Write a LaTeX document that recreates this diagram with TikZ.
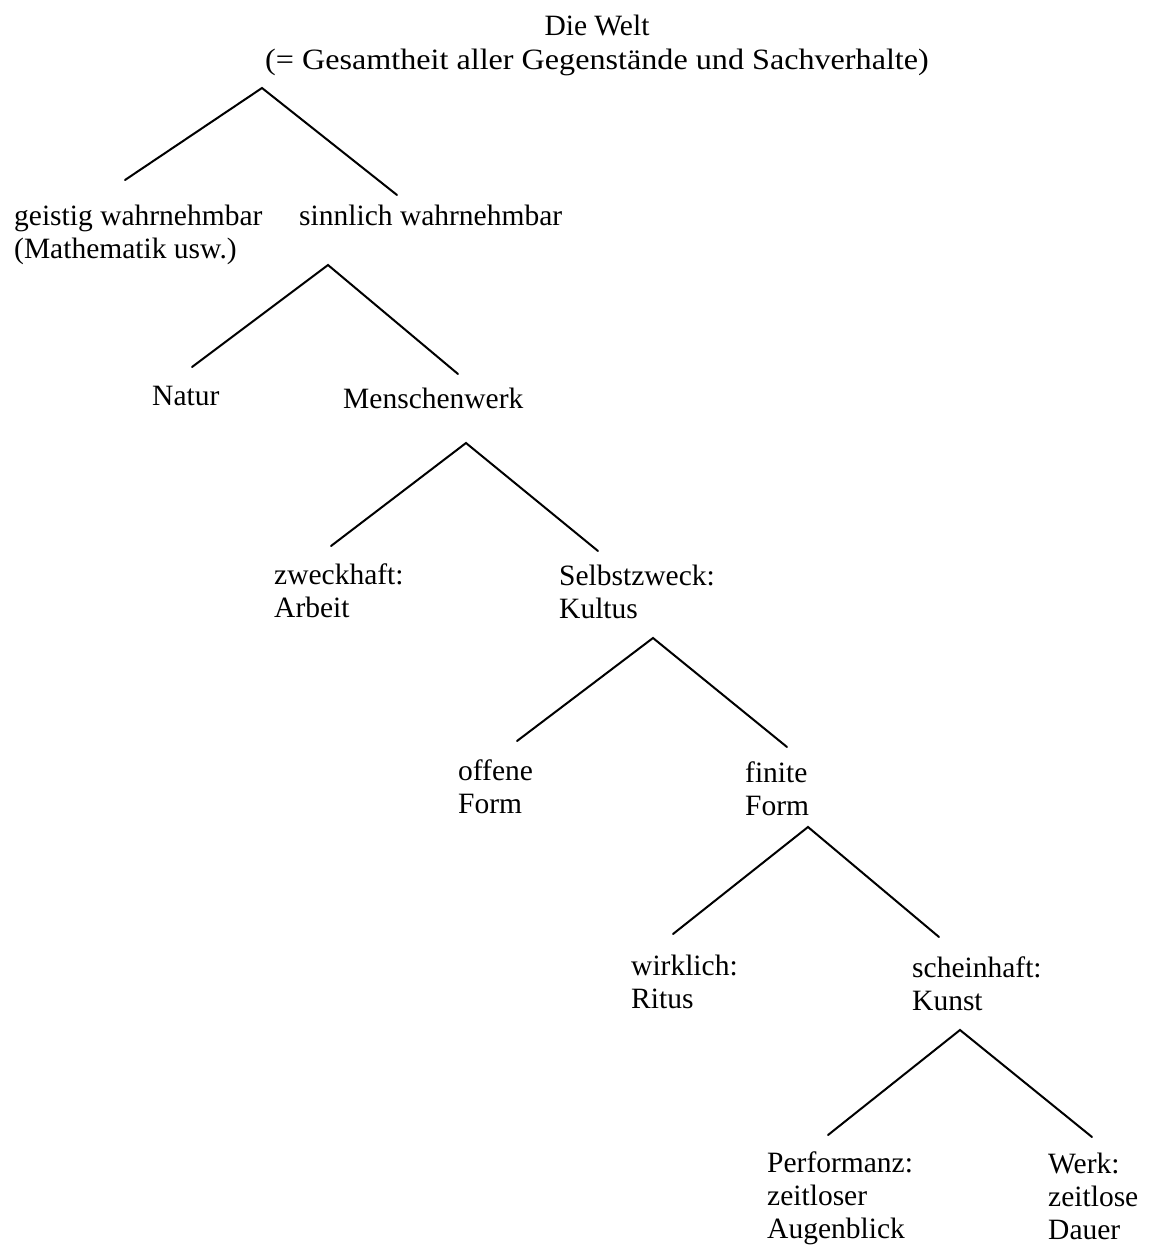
\documentclass[tikz,border=0pt]{standalone}
\usepackage{graphicx}
\usepackage{fontspec}
\setmainfont{Liberation Serif}
\begin{document}
\begin{tikzpicture}[x=1pt,y=-1pt,
  lbl/.style={anchor=base west,inner sep=0pt,align=left,
    font=\fontsize{29.5}{33}\selectfont},
  branch/.style={line width=2pt,line cap=round,line join=miter}]
\useasboundingbox (0,0) rectangle (1152,1258);

% root (base anchor of a multi-line node sits on its last line)
\node[lbl,anchor=base,align=center,font=\fontsize{29.5}{34}\selectfont] (welt) at (597,69)
  {Die Welt\\\scalebox{1.09}[1]{(= Gesamtheit aller Gegenstände und Sachverhalte)}};

% level 1
\coordinate (f1) at (262,88);
\coordinate (f1l) at (125,180);
\coordinate (f1r) at (397,195);
\node[lbl] (geistig) at (14,258) {geistig wahrnehmbar\\(Mathematik usw.)};
\node[lbl] (sinnlich) at (299,225) {sinnlich wahrnehmbar};

% level 2
\coordinate (f2) at (328,265);
\coordinate (f2l) at (192,367);
\coordinate (f2r) at (458,374);
\node[lbl] (natur) at (152,405) {Natur};
\node[lbl] (mensch) at (343,408) {Menschenwerk};

% level 3
\coordinate (f3) at (466,443);
\coordinate (f3l) at (331,546);
\coordinate (f3r) at (598,551);
\node[lbl] (zweck) at (274,617) {zweckhaft:\\Arbeit};
\node[lbl] (selbst) at (559,618) {Selbstzweck:\\Kultus};

% level 4
\coordinate (f4) at (653,638);
\coordinate (f4l) at (517,741);
\coordinate (f4r) at (787,747);
\node[lbl] (offen) at (458,813) {offene\\Form};
\node[lbl] (finit) at (745,815) {finite\\Form};

% level 5
\coordinate (f5) at (808,827);
\coordinate (f5l) at (673,934);
\coordinate (f5r) at (939,937);
\node[lbl] (wirk) at (631,1008) {wirklich:\\Ritus};
\node[lbl] (schein) at (912,1010) {scheinhaft:\\Kunst};

% level 6
\coordinate (f6) at (960,1030);
\coordinate (f6l) at (828,1135);
\coordinate (f6r) at (1092,1137);
\node[lbl] (perf) at (767,1238) {Performanz:\\zeitloser\\Augenblick};
\node[lbl] (werk) at (1048,1239) {Werk:\\zeitlose\\Dauer};

% branches
\draw[branch] (f1l) -- (f1) -- (f1r);
\draw[branch] (f2l) -- (f2) -- (f2r);
\draw[branch] (f3l) -- (f3) -- (f3r);
\draw[branch] (f4l) -- (f4) -- (f4r);
\draw[branch] (f5l) -- (f5) -- (f5r);
\draw[branch] (f6l) -- (f6) -- (f6r);
\end{tikzpicture}
\end{document}
